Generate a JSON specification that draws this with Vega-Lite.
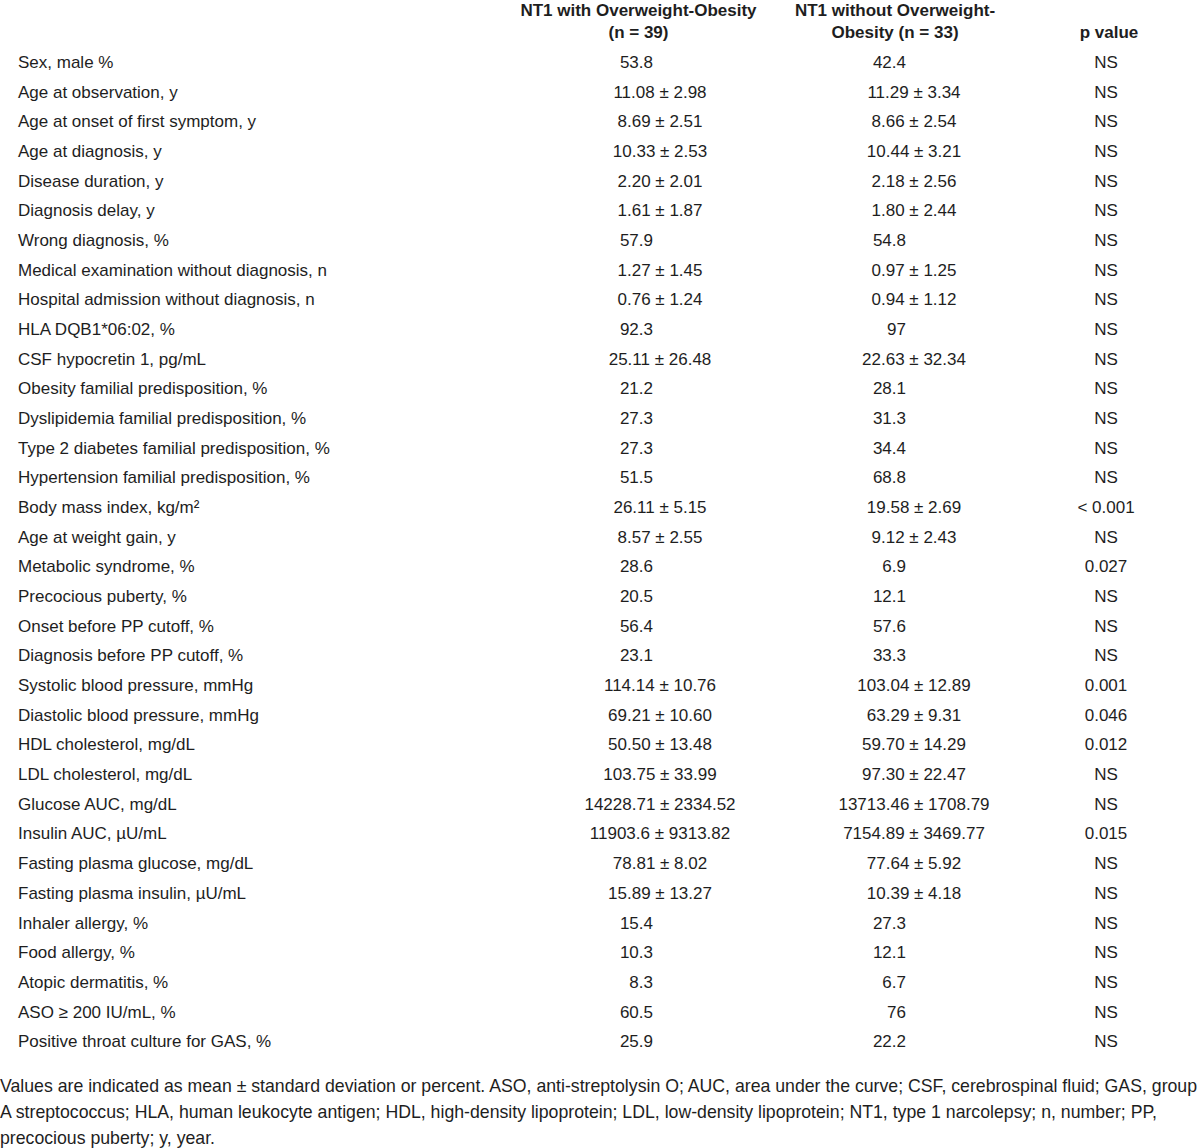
{
  "$schema": "https://vega.github.io/schema/vega-lite/v6.json",
  "width": 1200,
  "height": 1148,
  "autosize": {"type": "fit", "contains": "padding"},
  "padding": 0,
  "background": "white",
  "config": {"view": {"stroke": null}, "text": {"font": "Liberation Sans, Arial, sans-serif", "fontSize": 17, "color": "#1e1e1e"}},
  "datasets": {
    "rows": [
      {"row": 1, "stat": "pct", "label": "Sex, male %", "g1": "53.8", "g2": "42.4", "p": "NS"},
      {"row": 2, "stat": "msd", "label": "Age at observation, y", "g1": "11.08 ± 2.98", "g2": "11.29 ± 3.34", "p": "NS"},
      {"row": 3, "stat": "msd", "label": "Age at onset of first symptom, y", "g1": "8.69 ± 2.51", "g2": "8.66 ± 2.54", "p": "NS"},
      {"row": 4, "stat": "msd", "label": "Age at diagnosis, y", "g1": "10.33 ± 2.53", "g2": "10.44 ± 3.21", "p": "NS"},
      {"row": 5, "stat": "msd", "label": "Disease duration, y", "g1": "2.20 ± 2.01", "g2": "2.18 ± 2.56", "p": "NS"},
      {"row": 6, "stat": "msd", "label": "Diagnosis delay, y", "g1": "1.61 ± 1.87", "g2": "1.80 ± 2.44", "p": "NS"},
      {"row": 7, "stat": "pct", "label": "Wrong diagnosis, %", "g1": "57.9", "g2": "54.8", "p": "NS"},
      {"row": 8, "stat": "msd", "label": "Medical examination without diagnosis, n", "g1": "1.27 ± 1.45", "g2": "0.97 ± 1.25", "p": "NS"},
      {"row": 9, "stat": "msd", "label": "Hospital admission without diagnosis, n", "g1": "0.76 ± 1.24", "g2": "0.94 ± 1.12", "p": "NS"},
      {"row": 10, "stat": "pct", "label": "HLA DQB1*06:02, %", "g1": "92.3", "g2": "97", "p": "NS"},
      {"row": 11, "stat": "msd", "label": "CSF hypocretin 1, pg/mL", "g1": "25.11 ± 26.48", "g2": "22.63 ± 32.34", "p": "NS"},
      {"row": 12, "stat": "pct", "label": "Obesity familial predisposition, %", "g1": "21.2", "g2": "28.1", "p": "NS"},
      {"row": 13, "stat": "pct", "label": "Dyslipidemia familial predisposition, %", "g1": "27.3", "g2": "31.3", "p": "NS"},
      {"row": 14, "stat": "pct", "label": "Type 2 diabetes familial predisposition, %", "g1": "27.3", "g2": "34.4", "p": "NS"},
      {"row": 15, "stat": "pct", "label": "Hypertension familial predisposition, %", "g1": "51.5", "g2": "68.8", "p": "NS"},
      {"row": 16, "stat": "msd", "label": "Body mass index, kg/m²", "g1": "26.11 ± 5.15", "g2": "19.58 ± 2.69", "p": "< 0.001"},
      {"row": 17, "stat": "msd", "label": "Age at weight gain, y", "g1": "8.57 ± 2.55", "g2": "9.12 ± 2.43", "p": "NS"},
      {"row": 18, "stat": "pct", "label": "Metabolic syndrome, %", "g1": "28.6", "g2": "6.9", "p": "0.027"},
      {"row": 19, "stat": "pct", "label": "Precocious puberty, %", "g1": "20.5", "g2": "12.1", "p": "NS"},
      {"row": 20, "stat": "pct", "label": "Onset before PP cutoff, %", "g1": "56.4", "g2": "57.6", "p": "NS"},
      {"row": 21, "stat": "pct", "label": "Diagnosis before PP cutoff, %", "g1": "23.1", "g2": "33.3", "p": "NS"},
      {"row": 22, "stat": "msd", "label": "Systolic blood pressure, mmHg", "g1": "114.14 ± 10.76", "g2": "103.04 ± 12.89", "p": "0.001"},
      {"row": 23, "stat": "msd", "label": "Diastolic blood pressure, mmHg", "g1": "69.21 ± 10.60", "g2": "63.29 ± 9.31", "p": "0.046"},
      {"row": 24, "stat": "msd", "label": "HDL cholesterol, mg/dL", "g1": "50.50 ± 13.48", "g2": "59.70 ± 14.29", "p": "0.012"},
      {"row": 25, "stat": "msd", "label": "LDL cholesterol, mg/dL", "g1": "103.75 ± 33.99", "g2": "97.30 ± 22.47", "p": "NS"},
      {"row": 26, "stat": "msd", "label": "Glucose AUC, mg/dL", "g1": "14228.71 ± 2334.52", "g2": "13713.46 ± 1708.79", "p": "NS"},
      {"row": 27, "stat": "msd", "label": "Insulin AUC, µU/mL", "g1": "11903.6 ± 9313.82", "g2": "7154.89 ± 3469.77", "p": "0.015"},
      {"row": 28, "stat": "msd", "label": "Fasting plasma glucose, mg/dL", "g1": "78.81 ± 8.02", "g2": "77.64 ± 5.92", "p": "NS"},
      {"row": 29, "stat": "msd", "label": "Fasting plasma insulin, µU/mL", "g1": "15.89 ± 13.27", "g2": "10.39 ± 4.18", "p": "NS"},
      {"row": 30, "stat": "pct", "label": "Inhaler allergy, %", "g1": "15.4", "g2": "27.3", "p": "NS"},
      {"row": 31, "stat": "pct", "label": "Food allergy, %", "g1": "10.3", "g2": "12.1", "p": "NS"},
      {"row": 32, "stat": "pct", "label": "Atopic dermatitis, %", "g1": "8.3", "g2": "6.7", "p": "NS"},
      {"row": 33, "stat": "pct", "label": "ASO ≥ 200 IU/mL, %", "g1": "60.5", "g2": "76", "p": "NS"},
      {"row": 34, "stat": "pct", "label": "Positive throat culture for GAS, %", "g1": "25.9", "g2": "22.2", "p": "NS"}
    ],
    "header": [
      {"row": 0, "col": 2, "line": 1, "text": "NT1 with Overweight-Obesity"},
      {"row": 0, "col": 2, "line": 2, "text": "(n = 39)"},
      {"row": 0, "col": 5, "line": 1, "text": "NT1 without Overweight-"},
      {"row": 0, "col": 5, "line": 2, "text": "Obesity (n = 33)"},
      {"row": 0, "col": 9, "line": 2, "text": "p value"}
    ],
    "foot": [
      {"row": 35, "col": 0, "text": "Values are indicated as mean ± standard deviation or percent. ASO, anti-streptolysin O; AUC, area under the curve; CSF, cerebrospinal fluid; GAS, group\nA streptococcus; HLA, human leukocyte antigen; HDL, high-density lipoprotein; LDL, low-density lipoprotein; NT1, type 1 narcolepsy; n, number; PP,\nprecocious puberty; y, year."}
    ]
  },
  "encoding": {
    "y": {"field": "row", "type": "quantitative", "axis": null, "scale": {"domain": [-1.124, 37.566], "reverse": true, "zero": false, "nice": false}}
  },
  "layer": [
    {
      "data": {"name": "rows"},
      "mark": {"type": "text", "align": "left", "baseline": "middle"},
      "encoding": {
        "x": {"datum": 1, "type": "quantitative", "axis": null, "scale": {"domain": [0, 1, 2, 3, 4, 5, 6, 7, 8, 9], "range": [0, 18, 638.5, 653, 660, 895, 906, 914, 1106, 1109], "zero": false, "nice": false}},
        "text": {"field": "label"}
      }
    },
    {
      "data": {"name": "rows"},
      "transform": [{"filter": "datum.stat === 'pct'"}],
      "mark": {"type": "text", "align": "right", "baseline": "middle"},
      "encoding": {"x": {"datum": 3, "type": "quantitative"}, "text": {"field": "g1"}}
    },
    {
      "data": {"name": "rows"},
      "transform": [{"filter": "datum.stat === 'msd'"}],
      "mark": {"type": "text", "align": "center", "baseline": "middle"},
      "encoding": {"x": {"datum": 4, "type": "quantitative"}, "text": {"field": "g1"}}
    },
    {
      "data": {"name": "rows"},
      "transform": [{"filter": "datum.stat === 'pct'"}],
      "mark": {"type": "text", "align": "right", "baseline": "middle"},
      "encoding": {"x": {"datum": 6, "type": "quantitative"}, "text": {"field": "g2"}}
    },
    {
      "data": {"name": "rows"},
      "transform": [{"filter": "datum.stat === 'msd'"}],
      "mark": {"type": "text", "align": "center", "baseline": "middle"},
      "encoding": {"x": {"datum": 7, "type": "quantitative"}, "text": {"field": "g2"}}
    },
    {
      "data": {"name": "rows"},
      "mark": {"type": "text", "align": "center", "baseline": "middle"},
      "encoding": {"x": {"datum": 8, "type": "quantitative"}, "text": {"field": "p"}}
    },
    {
      "data": {"name": "header"},
      "transform": [{"filter": "datum.line === 1"}],
      "mark": {"type": "text", "align": "center", "baseline": "middle", "fontWeight": "bold", "dy": -22},
      "encoding": {"x": {"field": "col", "type": "quantitative"}, "text": {"field": "text"}}
    },
    {
      "data": {"name": "header"},
      "transform": [{"filter": "datum.line === 2"}],
      "mark": {"type": "text", "align": "center", "baseline": "middle", "fontWeight": "bold"},
      "encoding": {"x": {"field": "col", "type": "quantitative"}, "text": {"field": "text"}}
    },
    {
      "data": {"name": "foot"},
      "mark": {"type": "text", "align": "left", "baseline": "top", "lineBreak": "\n", "lineHeight": 26, "dy": 6, "fontSize": 17.7},
      "encoding": {"x": {"field": "col", "type": "quantitative"}, "text": {"field": "text"}}
    }
  ]
}
